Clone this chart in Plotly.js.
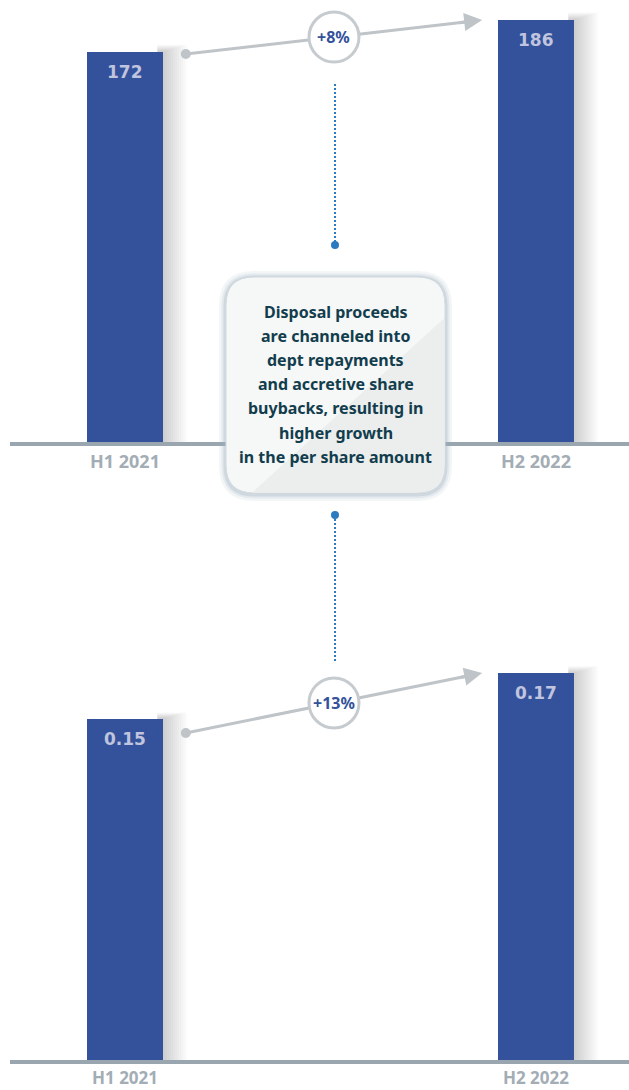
<!DOCTYPE html>
<html>
<head>
<meta charset="utf-8">
<script src="https://cdn.plot.ly/plotly-3.0.1.min.js"></script>
<style>html,body{margin:0;padding:0;background:#fff;}#chart{width:629px;height:1090px;}</style>
</head>
<body>
<div id="chart"></div>
<script>
// ---- data ----
const categories = ["H1 2021", "H2 2022"];
const topValues = [172, 186];
const bottomValues = [0.15, 0.17];
const calloutLines = [
  "Disposal proceeds",
  "are channeled into",
  "dept repayments",
  "and accretive share",
  "buybacks, resulting in",
  "higher growth",
  "in the per share amount"
];

// ---- style / layout constants ----
const W = 629, H = 1090;
const BAR_COLOR = "#33529b";
const VALUE_COLOR = "#c0c4de";
const ARROW_COLOR = "#bfc4c9";
const DOT_BLUE = "#2b7bbf";
const TEXT_DARK = "#123d4d";
const BAR_W = 0.185;
const XR = [-0.2798, 1.2263];
const px = v => v / W;
const py = v => 1 - v / H;

const panels = [
  {values: topValues, xa: "x", ya: "y", dom: [py(442), 1], yr: [0, 194.8], fmt: v => v.toFixed(0), startFrac: 0.994},
  {values: bottomValues, xa: "x2", ya: "y2", dom: [py(1060), py(600)], yr: [0, 0.2021], fmt: v => v.toFixed(2), startFrac: 0.958}
];
const ARROW_X0 = 0.148, ARROW_X1 = 0.869;

const traces = [];
const shapes = [];
const annotations = [];

panels.forEach(p => {
  traces.push({
    type: "bar", x: categories, y: p.values, xaxis: p.xa, yaxis: p.ya,
    width: BAR_W, marker: {color: BAR_COLOR, line: {width: 0}},
    hoverinfo: "none", showlegend: false
  });
  // soft bar shadows
  p.values.forEach((v, i) => {
    for (let k = 1; k <= 12; k++) {
      shapes.push({type: "rect", layer: "below", xref: p.xa, yref: p.ya,
        xsizemode: "pixel", xanchor: i + BAR_W / 2, x0: -6, x1: 2 * k,
        y0: 0, y1: v * (1 + 0.0015 * k), fillcolor: "rgba(0,0,0,0.017)", line: {width: 0}});
    }
    annotations.push({xref: p.xa, yref: p.ya, x: i, y: v, yanchor: "top", yshift: -8,
      text: "<b>" + p.fmt(v) + "</b>", showarrow: false,
      font: {family: "'DejaVu Sans'", size: 17, color: VALUE_COLOR, weight: 700}});
  });
  // growth arrow
  const y0 = p.values[0] * p.startFrac, y1 = p.values[1];
  shapes.push({type: "line", xref: p.xa, yref: p.ya, x0: ARROW_X0, y0: y0, x1: ARROW_X1 - 0.03, y1: y1 - (y1 - y0) * 0.03 / (ARROW_X1 - ARROW_X0),
    line: {color: ARROW_COLOR, width: 3}});
  shapes.push({type: "circle", xref: p.xa, yref: p.ya, xsizemode: "pixel", ysizemode: "pixel",
    xanchor: ARROW_X0, yanchor: y0, x0: -5, x1: 5, y0: -5, y1: 5,
    fillcolor: ARROW_COLOR, line: {width: 0}});
  annotations.push({xref: p.xa, yref: p.ya, axref: p.xa, ayref: p.ya,
    x: ARROW_X1, y: y1, ax: ARROW_X1 - 0.06, ay: y1 - (y1 - y0) * 0.06 / (ARROW_X1 - ARROW_X0),
    text: "", showarrow: true, arrowhead: 2, arrowsize: 1.2, arrowwidth: 3, arrowcolor: ARROW_COLOR, standoff: 0});
  const mx = (ARROW_X0 + ARROW_X1) / 2, my = (y0 + y1) / 2;
  shapes.push({type: "circle", xref: p.xa, yref: p.ya, xsizemode: "pixel", ysizemode: "pixel",
    xanchor: mx, yanchor: my, x0: -25, x1: 25, y0: -25, y1: 25,
    fillcolor: "#ffffff", line: {color: "#c6cbd0", width: 3}});
  const pct = Math.round((p.values[1] / p.values[0] - 1) * 100);
  annotations.push({xref: p.xa, yref: p.ya, x: mx, y: my, yanchor: "middle", text: "<b>+" + pct + "%</b>", showarrow: false,
    font: {family: "'Noto Sans'", size: 16, color: BAR_COLOR, weight: 700}});
});

// dotted connectors
function dotted(yTop, yBot, dotY) {
  shapes.push({type: "line", xref: "paper", yref: "paper", x0: px(335), x1: px(335), y0: py(yTop), y1: py(yBot),
    line: {color: DOT_BLUE, width: 2, dash: "2px,2px"}});
  shapes.push({type: "circle", xref: "paper", yref: "paper", x0: px(331), x1: px(339), y0: py(dotY - 4), y1: py(dotY + 4),
    fillcolor: DOT_BLUE, line: {width: 0}});
}
dotted(84, 245, 245);
dotted(515, 662, 515);

// callout box
function rr(x0, y0, x1, y1, r) {
  const X = px, Y = py;
  return `M${X(x0 + r)},${Y(y0)} L${X(x1 - r)},${Y(y0)} Q${X(x1)},${Y(y0)} ${X(x1)},${Y(y0 + r)} ` +
    `L${X(x1)},${Y(y1 - r)} Q${X(x1)},${Y(y1)} ${X(x1 - r)},${Y(y1)} L${X(x0 + r)},${Y(y1)} ` +
    `Q${X(x0)},${Y(y1)} ${X(x0)},${Y(y1 - r)} L${X(x0)},${Y(y0 + r)} Q${X(x0)},${Y(y0)} ${X(x0 + r)},${Y(y0)} Z`;
}
const BX0 = 226, BY0 = 277, BX1 = 445, BY1 = 493, BR = 28;
[[7, 0.12], [4.5, 0.18], [2.5, 0.3]].forEach(([g, o]) => {
  shapes.push({type: "path", xref: "paper", yref: "paper", path: rr(BX0 - g, BY0 - g + 1, BX1 + g, BY1 + g + 1, BR + g),
    fillcolor: "#9fb3c0", opacity: o, line: {width: 0}});
});
shapes.push({type: "path", xref: "paper", yref: "paper", path: rr(BX0, BY0, BX1, BY1, BR),
  fillcolor: "#f6f7f7", line: {color: "#d0dae0", width: 1}});
shapes.push({type: "path", xref: "paper", yref: "paper",
  path: `M${px(252)},${py(BY1 - 0.5)} L${px(BX1 - BR)},${py(BY1 - 0.5)} Q${px(BX1 - 0.5)},${py(BY1 - 0.5)} ${px(BX1 - 0.5)},${py(BY1 - BR)} L${px(BX1 - 0.5)},${py(318)} Z`,
  fillcolor: "#eceeee", line: {width: 0}});
calloutLines.forEach((t, i) => {
  annotations.push({xref: "paper", yref: "paper", x: px(335.5), y: py(312 + i * 24.1), xanchor: "center", yanchor: "middle",
    text: "<b>" + t + "</b>", showarrow: false,
    font: {family: "'Noto Sans'", size: 16, color: TEXT_DARK, weight: 700}});
});

const xaxisBase = {
  type: "category", categoryorder: "array", categoryarray: categories,
  domain: [px(10), 1], range: XR, showgrid: false, zeroline: false,
  showline: true, linecolor: "#99a5af", linewidth: 4, ticks: "",
  tickfont: {family: "'Noto Sans'", size: 18, color: "#a3adb5", weight: 700}, fixedrange: true
};
const yaxisBase = {showgrid: false, zeroline: false, showticklabels: false, showline: false, fixedrange: true};

const layout = {
  width: W, height: H, margin: {l: 0, r: 0, t: 0, b: 0},
  paper_bgcolor: "#ffffff", plot_bgcolor: "rgba(0,0,0,0)", showlegend: false,
  xaxis: Object.assign({}, xaxisBase, {anchor: "y"}),
  yaxis: Object.assign({}, yaxisBase, {domain: panels[0].dom, range: panels[0].yr, anchor: "x"}),
  xaxis2: Object.assign({}, xaxisBase, {anchor: "y2",
    tickfont: {family: "'Noto Sans'", size: 17, color: "#a3adb5", weight: 700}}),
  yaxis2: Object.assign({}, yaxisBase, {domain: panels[1].dom, range: panels[1].yr, anchor: "x2"}),
  shapes: shapes, annotations: annotations, bargap: 0
};

Plotly.newPlot("chart", traces, layout, {staticPlot: true, displayModeBar: false});
</script>
</body>
</html>
